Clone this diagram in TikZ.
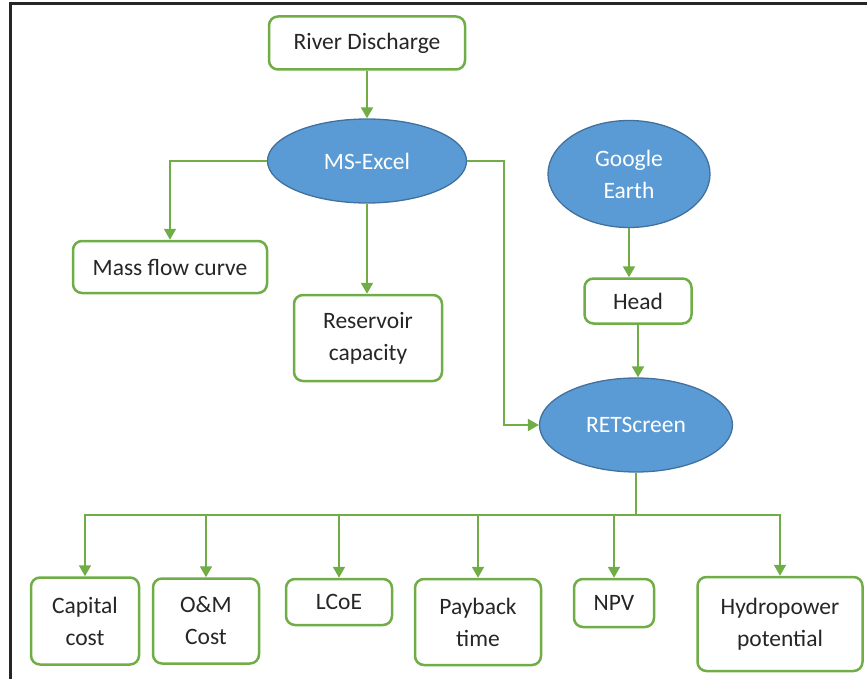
\documentclass[tikz,border=0pt]{standalone}
\usepackage{fontspec}
\setmainfont{Carlito}
\usetikzlibrary{shapes.geometric,arrows.meta}
\definecolor{grn}{HTML}{70AD47}
\definecolor{blu}{HTML}{5B9BD5}
\definecolor{bdr}{HTML}{41719C}
\definecolor{txt}{HTML}{262626}
\tikzset{
  box/.style={draw=grn, line width=2.5pt, rounded corners=9pt, fill=white, align=center,
    inner sep=0pt, text=txt, font=\fontsize{23.5}{32}\selectfont},
  ell/.style={ellipse, draw=bdr, line width=1.3pt, fill=blu, align=center, inner sep=0pt,
    text=white, font=\fontsize{23.5}{32}\selectfont},
  conn/.style={draw=grn, line width=2pt, -{Triangle[length=11pt,width=12pt]}},
  plain/.style={draw=grn, line width=2pt},
}
\begin{document}
\begin{tikzpicture}[x=1pt,y=-1pt]
\useasboundingbox (0,0) rectangle (867,679);
\draw[line width=3pt, black!85] (10,700) -- (10,4) -- (890,4);
% nodes
\node[box, minimum width=196pt, minimum height=53pt] (river) at (367,43) {River Discharge};
\node[ell, minimum width=199pt, minimum height=84pt] (excel) at (367,161) {MS-Excel};
\node[ell, minimum width=162pt, minimum height=107pt] (google) at (629,174) {Google\\Earth};
\node[box, minimum width=107pt, minimum height=45pt] (head) at (638,301) {Head};
\node[ell, minimum width=193pt, minimum height=94pt] (ret) at (636,425) {RETScreen};
\node[box, minimum width=194pt, minimum height=52pt] (mass) at (170,267) {Mass flow curve};
\node[box, minimum width=148pt, minimum height=86pt] (res) at (368,338) {Reservoir\\capacity};
\node[box, minimum width=108pt, minimum height=87pt] (cap) at (85,621) {Capital\\cost};
\node[box, minimum width=106pt, minimum height=85pt] (om) at (206,621) {O\&M\\Cost};
\node[box, minimum width=106pt, minimum height=46pt] (lcoe) at (339,602) {LCoE};
\node[box, minimum width=126pt, minimum height=86pt] (pay) at (478,622) {Payback\\time};
\node[box, minimum width=80pt, minimum height=48pt] (npv) at (614,603) {NPV};
\node[box, minimum width=165pt, minimum height=94pt] (hydro) at (780,624) {Hydropower\\potential};
% coordinates
\coordinate (bend) at (504,161);
\coordinate (bus) at (0,515);
% connectors
\draw[conn] (river) -- (excel);
\draw[conn] (excel.west) -| (mass.north);
\draw[conn] (excel.south) -- (excel.south |- res.north);
\draw[conn] (excel.east) -- (bend) |- (ret.west);
\draw[conn] (google) -- (google.south |- head.north);
\draw[conn] (head) -- (head.south |- ret.north);
\draw[plain] (ret.south) -- (ret.south |- bus);
\draw[plain] ([xshift=-1pt]bus -| cap.north) -- ([xshift=1pt]bus -| hydro.north);
\foreach \n in {cap,om,lcoe,pay,npv,hydro}
  \draw[conn] (bus -| \n.north) -- (\n.north);
\end{tikzpicture}
\end{document}
